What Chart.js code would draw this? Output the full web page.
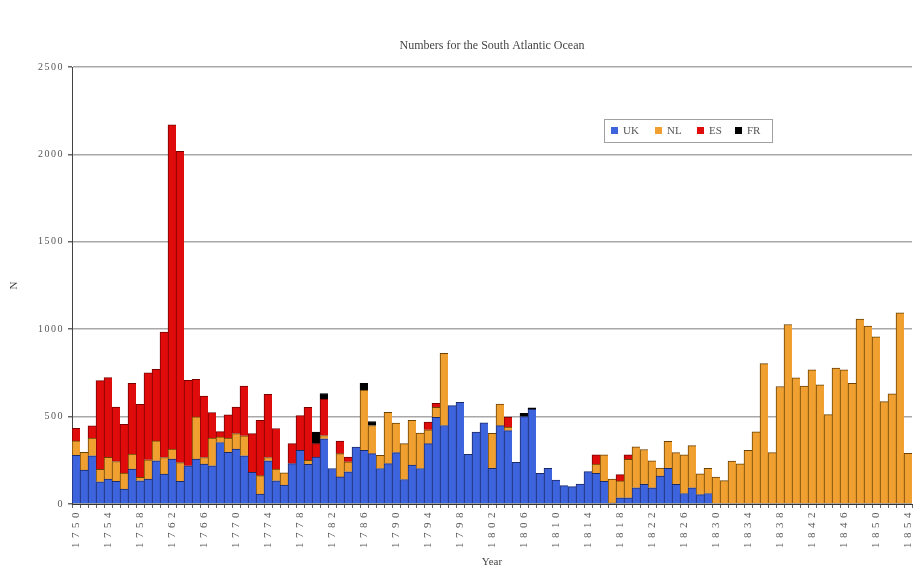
<!DOCTYPE html>
<html>
<head>
<meta charset="utf-8">
<title>Numbers for the South Atlantic Ocean</title>
<script src="https://cdn.jsdelivr.net/npm/chart.js@4.4.1/dist/chart.umd.min.js"></script>
<style>
  html, body { margin: 0; padding: 0; background: #fff; }
  #wrap { position: relative; width: 915px; height: 569px; }
</style>
</head>
<body>
<div id="wrap"><canvas id="grafico" width="915" height="569"></canvas></div>
<script>
// años 1750 - 1854, una barra por año
const years = [];
for (let y = 1750; y <= 1854; y++) years.push(y);

const uk = [279, 194, 276, 127, 143, 129, 86, 200, 133, 143,
            247, 171, 257, 129, 219, 257, 228, 219, 352, 295,
            314, 276, 181, 57, 247, 133, 108, 231, 307, 227,
            269, 373, 203, 155, 184, 326, 307, 288, 203, 231,
            294, 140, 222, 203, 345, 496, 449, 563, 581, 284,
            411, 464, 204, 448, 420, 238, 500, 542, 176, 204,
            137, 105, 99, 114, 185, 176, 130, 5, 36, 36,
            93, 112, 93, 160, 204, 112, 60, 93, 54, 60,
            0, 0, 0, 0, 0, 0, 0, 0, 0, 0,
            0, 0, 0, 0, 0, 0, 0, 0, 0, 0,
            0, 0, 0, 0, 0];

const nl = [82, 101, 101, 72, 124, 114, 91, 86, 20, 110,
            114, 95, 57, 108, 0, 241, 38, 158, 32, 82,
            89, 114, 0, 105, 19, 67, 70, 0, 0, 23,
            0, 19, 0, 133, 57, 0, 345, 161, 76, 294,
            169, 205, 256, 203, 80, 57, 413, 0, 0, 0,
            0, 0, 200, 124, 20, 0, 0, 0, 0, 0,
            0, 0, 0, 0, 0, 53, 151, 138, 96, 220,
            234, 200, 154, 46, 154, 182, 222, 241, 119, 144,
            154, 134, 246, 230, 307, 413, 803, 294, 672, 1027,
            722, 674, 768, 682, 511, 778, 768, 691, 1058, 1018,
            956, 586, 630, 1094, 290];

const es = [72, 0, 70, 507, 456, 312, 279, 405, 417, 498,
            409, 718, 1855, 1780, 488, 215, 352, 146, 30, 133,
            152, 285, 222, 317, 361, 232, 0, 114, 199, 303,
            76, 208, 0, 72, 28, 0, 0, 0, 0, 0,
            0, 0, 0, 0, 44, 23, 0, 0, 0, 0,
            0, 0, 0, 0, 57, 0, 0, 0, 0, 0,
            0, 0, 0, 0, 0, 53, 0, 0, 36, 25,
            0, 0, 0, 0, 0, 0, 0, 0, 0, 0,
            0, 0, 0, 0, 0, 0, 0, 0, 0, 0,
            0, 0, 0, 0, 0, 0, 0, 0, 0, 0,
            0, 0, 0, 0, 0];

const fr = [0, 0, 0, 0, 0, 0, 0, 0, 0, 0,
            0, 0, 0, 0, 0, 0, 0, 0, 0, 0,
            0, 0, 0, 0, 0, 0, 0, 0, 0, 0,
            66, 32, 0, 0, 0, 0, 38, 23, 0, 0,
            0, 0, 0, 0, 0, 0, 0, 0, 0, 0,
            0, 0, 0, 0, 0, 0, 19, 8, 0, 0,
            0, 0, 0, 0, 0, 0, 0, 0, 0, 0,
            0, 0, 0, 0, 0, 0, 0, 0, 0, 0,
            0, 0, 0, 0, 0, 0, 0, 0, 0, 0,
            0, 0, 0, 0, 0, 0, 0, 0, 0, 0,
            0, 0, 0, 0, 0];

const yTicks = [0, 500, 1000, 1500, 2000, 2500];
const fuente = '"Liberation Serif", "Times New Roman", serif';

// leyenda dentro del area del grafico, como en el original
const leyendaInterna = {
  id: 'leyendaInterna',
  afterDraw(chart) {
    const ctx = chart.ctx;
    const xs = [611, 655, 697, 735];
    ctx.save();
    ctx.strokeStyle = '#a0a0a0';
    ctx.lineWidth = 1;
    ctx.strokeRect(604.5, 119.5, 168, 23);
    ctx.font = '11px ' + fuente;
    ctx.textBaseline = 'middle';
    chart.data.datasets.forEach((ds, i) => {
      ctx.fillStyle = ds.backgroundColor;
      ctx.fillRect(xs[i], 127, 7, 7);
      ctx.fillStyle = '#555';
      ctx.fillText(ds.label, xs[i] + 12, 131);
    });
    ctx.restore();
  }
};

// las etiquetas de los ejes van algo espaciadas en el original
const espaciado = {
  id: 'espaciado',
  afterUpdate(chart) {
    [['x', '4.5px'], ['y', '1.5px']].forEach(([id, sp]) => {
      const s = chart.scales[id];
      if (!s || s._espaciado) return;
      const orig = s.drawLabels;
      s.drawLabels = function (area) {
        const c = this.ctx;
        const prev = c.letterSpacing;
        c.letterSpacing = sp;
        orig.call(this, area);
        c.letterSpacing = prev;
      };
      s._espaciado = true;
    });
  }
};

const ctx = document.getElementById('grafico').getContext('2d');
const grafico = new Chart(ctx, {
  type: 'bar',
  data: {
    labels: years,
    datasets: [
      { label: 'UK', data: uk, backgroundColor: '#3d64dc', borderColor: '#1c2a6a' },
      { label: 'NL', data: nl, backgroundColor: '#f0a030', borderColor: '#6a4204' },
      { label: 'ES', data: es, backgroundColor: '#e00c0c', borderColor: '#7a0000' },
      { label: 'FR', data: fr, backgroundColor: '#000000', borderColor: '#000000' }
    ]
  },
  options: {
    responsive: false,
    animation: false,
    datasets: {
      bar: {
        barPercentage: 1,
        categoryPercentage: 1,
        borderWidth: { top: 1, left: 1, right: 0, bottom: 0 }
      }
    },
    layout: { padding: { left: 0, right: 3, top: 0, bottom: 0 } },
    plugins: {
      legend: { display: false },
      tooltip: { enabled: false },
      title: {
        display: true,
        fullSize: false,
        text: 'Numbers for the South Atlantic Ocean',
        color: '#444',
        font: { family: fuente, size: 12, weight: 'normal' },
        padding: { top: 39, bottom: 13.6 }
      }
    },
    scales: {
      x: {
        stacked: true,
        offset: true,
        afterFit: (scale) => {
          scale.height = 65;
          scale.paddingLeft = 0;
          scale.paddingRight = 0;
        },
        grid: { display: true, drawOnChartArea: false, tickLength: 4, tickColor: '#666' },
        border: { color: '#333', width: 1 },
        ticks: {
          autoSkip: false,
          minRotation: 90,
          maxRotation: 90,
          padding: 0,
          color: '#555',
          font: { family: fuente, size: 11 },
          callback: function (val, i) {
            return (years[i] - 1750) % 4 === 0 ? String(years[i]) : '';
          }
        },
        title: {
          display: true,
          text: 'Year',
          color: '#444',
          font: { family: fuente, size: 11 },
          padding: { top: 2, bottom: 0 }
        }
      },
      y: {
        stacked: true,
        min: 0,
        max: 2500,
        afterFit: (scale) => { scale.width = 72; },
        afterBuildTicks: (scale) => { scale.ticks = yTicks.map(v => ({ value: v })); },
        grid: { color: '#a8a8a8', lineWidth: 1.5, tickLength: 4, tickColor: '#666' },
        border: { color: '#444', width: 1 },
        ticks: {
          padding: 4,
          color: '#555',
          font: { family: fuente, size: 10 },
          callback: (v) => String(v)
        },
        title: {
          display: true,
          text: 'N',
          color: '#444',
          font: { family: fuente, size: 11 },
          padding: { top: 8, bottom: 0 }
        }
      }
    }
  },
  plugins: [leyendaInterna, espaciado]
});
</script>
</body>
</html>
